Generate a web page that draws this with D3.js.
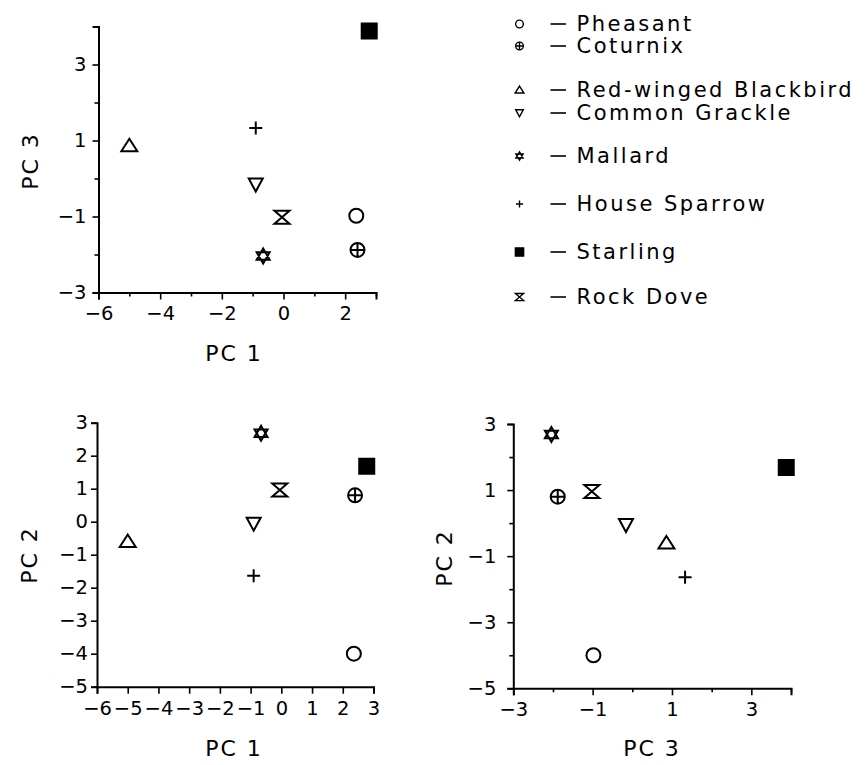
<!DOCTYPE html>
<html><head><meta charset="utf-8">
<script src="https://cdn.jsdelivr.net/npm/d3@7"></script>
<style>body{margin:0;background:#fff} svg{display:block}</style>
</head><body>
<svg id="c" width="868" height="765"></svg>
<script>
// ---- data ----
const species = ["Pheasant","Coturnix","Red-winged Blackbird","Common Grackle","Mallard","House Sparrow","Starling","Rock Dove"];
const symbols = ["circle","circlePlus","triUp","triDown","star","plus","square","hourglass"];
const pc1 = [2.36, 2.40, -5.00, -0.90, -0.66, -0.90, 2.78, -0.05];
const pc2 = [-4.00, 0.80, -0.60, -0.06, 2.68, -1.64, 1.68, 0.96];
const pc3 = [-0.98, -1.88, 0.86, -0.16, -2.04, 1.33, 3.88, -1.02];
const pc1Ticks = [-6,-5,-4,-3,-2,-1,0,1,2,3];
const pc2Ticks = [-5,-4,-3,-2,-1,0,1,2,3];
const pc3Ticks = [-3,-2,-1,0,1,2,3,4];
const pc1LabelsEven = [-6,-4,-2,0,2];
const pc1LabelsAll = [-6,-5,-4,-3,-2,-1,0,1,2,3];
const pc2LabelsAll = [-5,-4,-3,-2,-1,0,1,2,3];
const pc2LabelsOdd = [-5,-3,-1,1,3];
const pc3LabelsOdd = [-3,-1,1,3];
const axisTitles = ["PC 1","PC 2","PC 3"];

const svg = d3.select("#c");
const FONT = "DejaVu Sans, Liberation Sans, sans-serif";
const fmt = v => (v < 0 ? "\u2212" + Math.abs(v) : String(v));

function symbolPath(type, k) {
  const p = d3.path();
  switch (type) {
    case "circle":
      p.moveTo(7*k, 0); p.arc(0, 0, 7*k, 0, 2*Math.PI); break;
    case "circlePlus":
      p.moveTo(7*k, 0); p.arc(0, 0, 7*k, 0, 2*Math.PI);
      p.moveTo(-7*k, 0); p.lineTo(7*k, 0); p.moveTo(0, -7*k); p.lineTo(0, 7*k); break;
    case "triUp":
      p.moveTo(0, -7*k); p.lineTo(8*k, 5.5*k); p.lineTo(-8*k, 5.5*k); p.closePath(); break;
    case "triDown":
      p.moveTo(-7*k, -6*k); p.lineTo(7*k, -6*k); p.lineTo(0, 7*k); p.closePath(); break;
    case "star":
      p.moveTo(0, -7.5*k); p.lineTo(6.5*k, 3.75*k); p.lineTo(-6.5*k, 3.75*k); p.closePath();
      p.moveTo(0, 7.5*k); p.lineTo(6.5*k, -3.75*k); p.lineTo(-6.5*k, -3.75*k); p.closePath(); break;
    case "plus":
      p.moveTo(-6.5*k, 0); p.lineTo(6.5*k, 0); p.moveTo(0, -6.5*k); p.lineTo(0, 6.5*k); break;
    case "square":
      p.rect(-7.5*k, -7.5*k, 15*k, 15*k); break;
    case "hourglass":
      p.moveTo(-7.5*k, -6.5*k); p.lineTo(7.5*k, -6.5*k); p.lineTo(-7.5*k, 6.5*k);
      p.lineTo(7.5*k, 6.5*k); p.closePath(); break;
  }
  return p.toString();
}

function drawMarks(g, xs, ys, x, y, k, sw) {
  g.selectAll("path.mark").data(species.map((s, i) => i)).join("path")
    .attr("class", "mark")
    .attr("transform", i => `translate(${x(xs[i])},${y(ys[i])})`)
    .attr("d", i => symbolPath(symbols[i], k))
    .attr("fill", i => symbols[i] === "square" ? "#000" : "none")
    .attr("stroke", "#000")
    .attr("stroke-width", sw)
    .attr("stroke-linejoin", "miter");
}

function panel(cfg) {
  const x = d3.scaleLinear().domain(cfg.xDomain).range(cfg.xRange);
  const y = d3.scaleLinear().domain(cfg.yDomain).range(cfg.yRange);
  const g = svg.append("g");

  const xAxis = d3.axisBottom(x).tickValues(cfg.xTicks).tickSizeOuter(0)
    .tickSize(7).tickPadding(cfg.xPad)
    .tickFormat(v => cfg.xLabels.includes(v) ? fmt(v) : "");
  const gx = g.append("g").attr("transform", `translate(0,${cfg.yRange[0]})`).call(xAxis);
  gx.selectAll(".tick line").attr("y2", v => cfg.xLabels.includes(v) ? 7 : 4);

  const yAxis = d3.axisLeft(y).tickValues(cfg.yTicks).tickSizeOuter(0)
    .tickSize(6).tickPadding(cfg.yPad)
    .tickFormat(v => cfg.yLabels.includes(v) ? fmt(v) : "");
  const gy = g.append("g").attr("transform", `translate(${cfg.xRange[0]},0)`).call(yAxis);
  gy.selectAll(".tick line").attr("x2", v => cfg.yLabels.includes(v) ? -6 : -4);

  [gx, gy].forEach(a => {
    a.select(".domain").attr("stroke", "#000").attr("stroke-width", 2);
    a.selectAll(".tick line").attr("stroke", "#000").attr("stroke-width", 1.6);
    a.selectAll(".tick text").attr("fill", "#000")
      .style("font-family", FONT).style("font-size", "19.5px");
  });

  g.append("text").attr("x", cfg.xTitle[0]).attr("y", cfg.xTitle[1])
    .attr("text-anchor", "middle").style("font-family", FONT).style("font-size", "22px")
    .style("letter-spacing", "2px").text(cfg.xName);
  g.append("text").attr("transform", `translate(${cfg.yTitle[0]},${cfg.yTitle[1]}) rotate(-90)`)
    .attr("text-anchor", "middle").style("font-family", FONT).style("font-size", "22px")
    .style("letter-spacing", "2px").text(cfg.yName);

  drawMarks(g, cfg.xs, cfg.ys, x, y, 1, 2);
}

panel({
  xDomain: [-6, 3], xRange: [98.5, 376], yDomain: [-3, 4], yRange: [292.5, 26.5],
  xTicks: pc1Ticks, xLabels: pc1LabelsEven, yTicks: pc3Ticks, yLabels: pc3LabelsOdd,
  xPad: 7, yPad: 6, xs: pc1, ys: pc3, xName: axisTitles[0], yName: axisTitles[2],
  xTitle: [234, 361], yTitle: [38, 161]
});
panel({
  xDomain: [-6, 3], xRange: [97, 373.5], yDomain: [-5, 3], yRange: [686.7, 422.7],
  xTicks: pc1Ticks, xLabels: pc1LabelsAll, yTicks: pc2Ticks, yLabels: pc2LabelsAll,
  xPad: 7, yPad: 3, xs: pc1, ys: pc2, xName: axisTitles[0], yName: axisTitles[1],
  xTitle: [234, 756], yTitle: [37, 555]
});
panel({
  xDomain: [-3, 4], xRange: [513.3, 791], yDomain: [-5, 3], yRange: [688.3, 424],
  xTicks: pc3Ticks, xLabels: pc3LabelsOdd, yTicks: pc2Ticks, yLabels: pc2LabelsOdd,
  xPad: 7, yPad: 11, xs: pc3, ys: pc2, xName: axisTitles[2], yName: axisTitles[1],
  xTitle: [652, 756], yTitle: [452, 558]
});

// ---- legend ----
const legendY = [24, 46, 90, 113, 156, 204, 252, 297];
const leg = svg.append("g");
const rows = leg.selectAll("g").data(species.map((s, i) => i)).join("g")
  .attr("transform", i => `translate(0,${legendY[i]})`);
rows.append("path")
  .attr("transform", "translate(519.5,0)")
  .attr("d", i => symbolPath(symbols[i], 0.55))
  .attr("fill", i => symbols[i] === "square" ? "#000" : "none")
  .attr("stroke", "#000").attr("stroke-width", 1.4);
rows.append("line").attr("x1", 550.5).attr("x2", 566).attr("y1", 0).attr("y2", 0)
  .attr("stroke", "#000").attr("stroke-width", 1.6);
rows.append("text").attr("x", 576.5).attr("y", 0).attr("dy", "0.33em")
  .style("font-family", FONT).style("font-size", "21px").style("letter-spacing", "2.5px")
  .text(i => species[i]);
</script>
</body></html>
